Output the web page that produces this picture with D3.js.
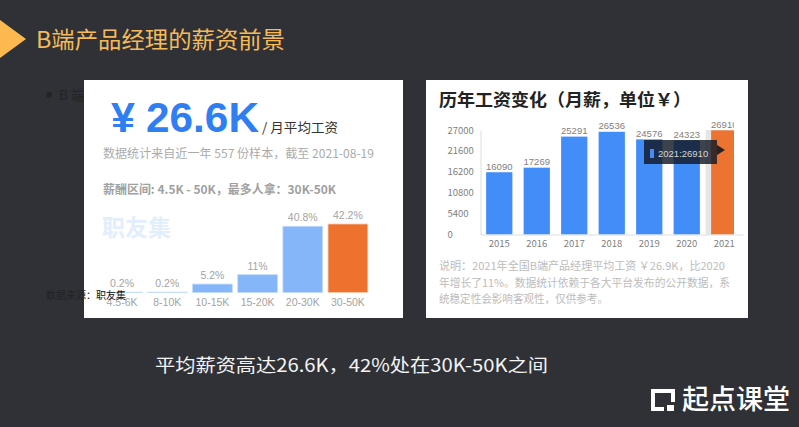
<!DOCTYPE html>
<html>
<head>
<meta charset="utf-8">
<script src="https://cdn.jsdelivr.net/npm/d3@7/dist/d3.min.js"></script>
<style>
  html, body { margin: 0; padding: 0; background: #2f3136; overflow: hidden; }
  svg { display: block; }
  text { font-family: "Noto Sans CJK SC", "Noto Sans", sans-serif; }
  .latin { font-family: "Liberation Sans", "Noto Sans CJK SC", sans-serif; }
</style>
</head>
<body>
<svg id="slide" width="799" height="427"></svg>
<script>
// salary range chart
var rangeLabels = ["4.5-6K", "8-10K", "10-15K", "15-20K", "20-30K", "30-50K"];
var rangeValues = [0.2, 0.2, 5.2, 11, 40.8, 42.2];
var rangeText = ["0.2%", "0.2%", "5.2%", "11%", "40.8%", "42.2%"];

// yearly salary chart
var years = ["2015", "2016", "2017", "2018", "2019", "2020", "2021"];
var salaries = [16090, 17269, 25291, 26536, 24576, 24323, 26910];
var salaryTicks = [0, 5400, 10800, 16200, 21600, 27000];

var noteLines = [
  "说明：2021年全国B端产品经理平均工资 ￥26.9K，比2020",
  "年增长了11%。数据统计依赖于各大平台发布的公开数据，系",
  "统稳定性会影响客观性，仅供参考。"
];
var noteWidths = [286, 291, 169];

var svg = d3.select("#slide");

function addText(x, y, str, size, color, weight, cls, len) {
  var t = svg.append("text")
    .attr("x", x).attr("y", y)
    .attr("font-size", size)
    .attr("fill", color)
    .attr("font-weight", weight || 400)
    .text(str);
  if (cls) t.attr("class", cls);
  if (len) t.attr("textLength", len).attr("lengthAdjust", "spacingAndGlyphs");
  return t;
}

// ------
// Slide header
// ------
svg.append("path").attr("d", "M0,20L26,39L0,58Z").attr("fill", "#fdb94f");
addText(36, 48, "B端产品经理的薪资前景", 22.5, "#f6bb58", 400, null, 249);

// text hidden behind the cards
svg.append("circle").attr("cx", 49).attr("cy", 95).attr("r", 3).attr("fill", "#232428");
addText(59, 100, "B 端", 13.5, "#232428");

// cards
svg.append("rect").attr("x", 84).attr("y", 80).attr("width", 319).attr("height", 238).attr("fill", "#fff");
svg.append("rect").attr("x", 426).attr("y", 80).attr("width", 322).attr("height", 238).attr("fill", "#fff");

// ------
// Left card
// ------
addText(111, 132, "¥", 42, "#2f7ff2", 700, "latin", 24);
addText(146, 132, "26.6K", 42, "#2f7ff2", 700, "latin", 113);
addText(262, 132, "/ 月平均工资", 13, "#333", 400, null, 76);
addText(103, 158, "数据统计来自近一年 557 份样本，截至 2021-08-19", 12, "#ababab", 400, null, 271);
addText(103, 194, "薪酬区间: 4.5K - 50K，最多人拿：30K-50K", 12, "#a0a0a0", 700, null, 233);
addText(102, 236, "职友集", 23, "#e3eefc", 700);

var xRange = d3.scaleBand().domain(rangeLabels).range([99.5, 370.5]).paddingInner(0.12).paddingOuter(0.06);
var yRange = d3.scaleLinear().domain([0, 42.2]).range([292.5, 224]);

svg.append("g").selectAll("rect")
  .data(rangeValues)
  .enter().append("rect")
  .attr("x", function(d, i) { return xRange(rangeLabels[i]); })
  .attr("y", function(d) { return yRange(d); })
  .attr("width", xRange.bandwidth())
  .attr("height", function(d) { return yRange(0) - yRange(d); })
  .attr("fill", function(d, i) { return i == 5 ? "#ee712d" : "#85b6f9"; })
  .attr("stroke", function(d, i) { return i == 5 ? "#f9c9ae" : "#c4dbfc"; })
  .attr("stroke-width", 0.8);

svg.append("g").selectAll("text")
  .data(rangeValues)
  .enter().append("text")
  .attr("class", "latin")
  .attr("x", function(d, i) { return xRange(rangeLabels[i]) + xRange.bandwidth() / 2; })
  .attr("y", function(d) { return yRange(d) - 5; })
  .attr("text-anchor", "middle")
  .attr("font-size", 10.5)
  .attr("fill", "#a3a3a3")
  .text(function(d, i) { return rangeText[i]; });

var rangeAxis = svg.append("g")
  .attr("transform", "translate(0,293)")
  .call(d3.axisBottom(xRange).tickSize(0).tickPadding(6));
rangeAxis.select(".domain").remove();
rangeAxis.selectAll("text")
  .attr("class", "latin")
  .attr("font-family", "Liberation Sans")
  .attr("font-size", 10.5)
  .attr("fill", "#a3a3a3");

// source line sits on top of the card
addText(46, 299, "数据来源：", 10, "#222327");
addText(96, 299, "职友集", 10, "#111");

// ------
// Right card
// ------
addText(439, 106, "历年工资变化（月薪，单位￥）", 17.5, "#222", 700, null, 252);

svg.append("clipPath").attr("id", "plot-clip").append("rect")
  .attr("x", 470).attr("y", 121).attr("width", 264).attr("height", 124);

var xYear = d3.scaleBand().domain(years).range([480.5, 743]).paddingInner(0.3).paddingOuter(0.15);
var yYear = d3.scaleLinear().domain([0, 27000]).range([234.5, 130]);

var plot = svg.append("g").attr("clip-path", "url(#plot-clip)");

// hover band behind the last bar
plot.append("rect")
  .attr("x", xYear("2021") - xYear.step() * xYear.paddingInner() / 2)
  .attr("y", yYear(27000))
  .attr("width", xYear.step())
  .attr("height", yYear(0) - yYear(27000))
  .attr("fill", "#e6e6e6");

plot.selectAll(".bar")
  .data(salaries)
  .enter().append("rect")
  .attr("class", "bar")
  .attr("x", function(d, i) { return xYear(years[i]); })
  .attr("y", function(d) { return yYear(d); })
  .attr("width", xYear.bandwidth())
  .attr("height", function(d) { return yYear(0) - yYear(d); })
  .attr("fill", function(d, i) { return i == 6 ? "#ed7330" : "#428df7"; });

plot.selectAll(".val")
  .data(salaries)
  .enter().append("text")
  .attr("class", "val latin")
  .attr("x", function(d, i) { return xYear(years[i]) + xYear.bandwidth() / 2; })
  .attr("y", function(d) { return yYear(d) - 2.5; })
  .attr("text-anchor", "middle")
  .attr("font-size", 9.5)
  .attr("fill", "#808080")
  .text(function(d) { return d; });

var yAxis = svg.append("g")
  .attr("transform", "translate(480.5,0)")
  .call(d3.axisLeft(yYear).tickValues(salaryTicks).tickFormat(d3.format("d")).tickSize(0).tickPadding(7));
yAxis.select(".domain").attr("stroke", "#ddd");
yAxis.selectAll("text")
  .attr("font-family", "Liberation Sans")
  .attr("font-size", 9.5)
  .attr("text-anchor", "start")
  .attr("x", -33)
  .attr("fill", "#808080");

var xAxis = svg.append("g")
  .attr("transform", "translate(0,234.5)")
  .call(d3.axisBottom(xYear).tickSize(0).tickPadding(6));
xAxis.select(".domain").attr("stroke", "#ddd");
xAxis.selectAll("text")
  .attr("font-family", "Liberation Sans")
  .attr("font-size", 9.5)
  .attr("fill", "#808080");

// tooltip
var tip = svg.append("g");
tip.append("rect").attr("x", 644).attr("y", 140).attr("width", 73).attr("height", 24)
  .attr("fill", "rgba(18,24,36,0.82)");
tip.append("path").attr("d", "M717,145L725,150L717,155Z").attr("fill", "rgba(18,24,36,0.9)");
tip.append("rect").attr("x", 650).attr("y", 149).attr("width", 4).attr("height", 9).attr("fill", "#428df7");
tip.append("text").attr("class", "latin")
  .attr("x", 658).attr("y", 156.5)
  .attr("font-size", 9.5)
  .attr("fill", "#d5d5d5")
  .text("2021:26910");

svg.append("g").selectAll("text")
  .data(noteLines)
  .enter().append("text")
  .attr("x", 439)
  .attr("y", function(d, i) { return 270 + i * 16.6; })
  .attr("font-size", 11)
  .attr("fill", "#bcbcbc")
  .attr("textLength", function(d, i) { return noteWidths[i]; })
  .attr("lengthAdjust", "spacingAndGlyphs")
  .text(function(d) { return d; });

// ------
// Footer
// ------
addText(155, 371.5, "平均薪资高达26.6K，42%处在30K-50K之间", 18, "#f4f4f4", 400, null, 393);

// logo
svg.append("path")
  .attr("d", "M664,409L653,409L653,391L673,391L673,402")
  .attr("fill", "none").attr("stroke", "#fff").attr("stroke-width", 4);
svg.append("rect").attr("x", 667).attr("y", 405).attr("width", 7).attr("height", 6).attr("fill", "#fff");
addText(682, 409, "起点课堂", 27, "#fff", 500, null, 108);
</script>
</body>
</html>
